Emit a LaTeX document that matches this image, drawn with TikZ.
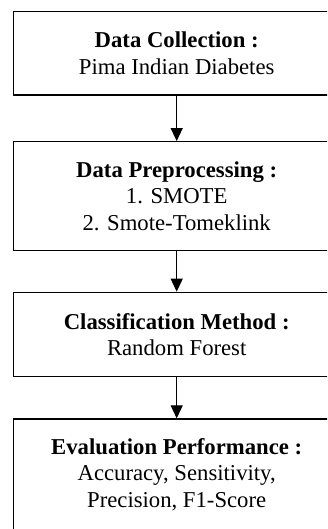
\documentclass[tikz,border=0pt]{standalone}
\usepackage{fontspec}
\setmainfont{Liberation Serif}
\usetikzlibrary{arrows.meta}
\begin{document}
\begin{tikzpicture}[x=1pt,y=1pt,
  box/.style={draw=black, line width=1.3pt, minimum width=326.7pt, inner sep=0pt,
    align=center, font=\fontsize{22.7}{26.7}\selectfont},
  conn/.style={line width=1.3pt, -{Triangle[length=13pt,width=12pt]}}]
\useasboundingbox (0,0) rectangle (327,529);
\clip (0,0) rectangle (327,529);
\fill[white] (0,0) rectangle (327,529);
\node[box, minimum height=83.3pt] (b1) at (176.7,475.65)
  {\textbf{Data Collection :}\\Pima Indian Diabetes};
\node[box, minimum height=109pt] (b2) at (176.7,332.8)
  {\textbf{Data Preprocessing :}\\1. SMOTE\\2. Smote-Tomeklink};
\node[box, minimum height=84.4pt] (b3) at (176.7,194.5)
  {\textbf{Classification Method :}\\Random Forest};
\node[box, minimum height=111.2pt] (b4) at (176.7,54.4)
  {\textbf{Evaluation Performance :}\\Accuracy, Sensitivity,\\Precision, F1-Score};
\draw[conn] (b1.south) -- (b2.north);
\draw[conn] (b2.south) -- (b3.north);
\draw[conn] (b3.south) -- (b4.north);
\end{tikzpicture}
\end{document}
